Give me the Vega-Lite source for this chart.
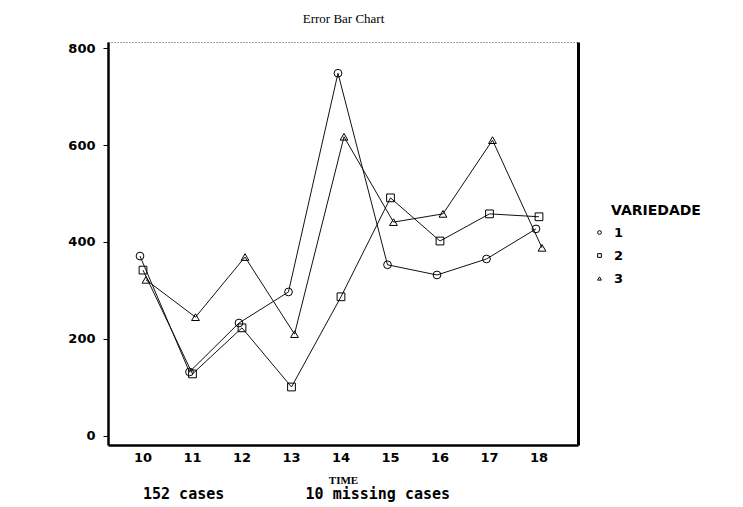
{
  "$schema": "https://vega.github.io/schema/vega-lite/v6.json",
  "width": 470,
  "height": 403,
  "autosize": {"type": "none"},
  "padding": {"left": 108, "top": 42, "right": 165, "bottom": 62},
  "background": "white",
  "title": {"text": "152 cases\u00a0\u00a0\u00a0\u00a0\u00a0\u00a0\u00a0\u00a0\u00a010 missing cases", "orient": "bottom", "anchor": "start", "frame": "group", "dx": 35, "offset": 2, "font": "DejaVu Sans Mono", "fontSize": 15, "fontWeight": "bold", "color": "black"},
  "config": {
    "view": {"stroke": "#444", "strokeWidth": 1, "strokeDash": [1, 2]},
    "axis": {"labelFont": "DejaVu Sans", "labelFontWeight": "bold", "labelFontSize": 13, "labelColor": "black", "titleColor": "black", "domainColor": "black", "tickColor": "black", "grid": false}
  },
  "data": {"values": [
    {"TIME": 10, "VARIEDADE": "1", "value": 371}, {"TIME": 10, "VARIEDADE": "2", "value": 342}, {"TIME": 10, "VARIEDADE": "3", "value": 322},
    {"TIME": 11, "VARIEDADE": "1", "value": 132}, {"TIME": 11, "VARIEDADE": "2", "value": 128}, {"TIME": 11, "VARIEDADE": "3", "value": 245},
    {"TIME": 12, "VARIEDADE": "1", "value": 233}, {"TIME": 12, "VARIEDADE": "2", "value": 223}, {"TIME": 12, "VARIEDADE": "3", "value": 369},
    {"TIME": 13, "VARIEDADE": "1", "value": 297}, {"TIME": 13, "VARIEDADE": "2", "value": 101}, {"TIME": 13, "VARIEDADE": "3", "value": 210},
    {"TIME": 14, "VARIEDADE": "1", "value": 748}, {"TIME": 14, "VARIEDADE": "2", "value": 287}, {"TIME": 14, "VARIEDADE": "3", "value": 617},
    {"TIME": 15, "VARIEDADE": "1", "value": 353}, {"TIME": 15, "VARIEDADE": "2", "value": 491}, {"TIME": 15, "VARIEDADE": "3", "value": 441},
    {"TIME": 16, "VARIEDADE": "1", "value": 332}, {"TIME": 16, "VARIEDADE": "2", "value": 402}, {"TIME": 16, "VARIEDADE": "3", "value": 458},
    {"TIME": 17, "VARIEDADE": "1", "value": 365}, {"TIME": 17, "VARIEDADE": "2", "value": 458}, {"TIME": 17, "VARIEDADE": "3", "value": 610},
    {"TIME": 18, "VARIEDADE": "1", "value": 427}, {"TIME": 18, "VARIEDADE": "2", "value": 452}, {"TIME": 18, "VARIEDADE": "3", "value": 388}
  ]},
  "encoding": {
    "xOffset": {"field": "VARIEDADE", "type": "nominal", "scale": {"type": "point", "range": [20.25, 29.25]}}
  },
  "layer": [
    {
      "mark": {"type": "line", "color": "#111", "strokeWidth": 1},
      "encoding": {
        "x": {"field": "TIME", "type": "ordinal", "scale": {"type": "band", "paddingInner": 0, "paddingOuter": 0.2475, "align": 0.418},
          "axis": {"labelAngle": 0, "ticks": false, "labelPadding": 6, "domainWidth": 2.5,
            "title": "TIME", "titleFont": "Liberation Serif", "titleFontWeight": "bold", "titleFontSize": 11, "titlePadding": 10}},
        "detail": {"field": "VARIEDADE", "type": "nominal"},
        "y": {"field": "value", "type": "quantitative", "scale": {"domain": [-18.6, 812.4], "nice": false, "zero": false},
          "axis": {"values": [0, 200, 400, 600, 800], "title": null, "tickSize": 5, "labelPadding": 8, "domainWidth": 2.5}}
      }
    },
    {
      "mark": {"type": "point", "filled": false, "color": "black", "size": 60, "strokeWidth": 1, "opacity": 1},
      "encoding": {
        "x": {"field": "TIME", "type": "ordinal", "scale": {"type": "band", "paddingInner": 0, "paddingOuter": 0.2475, "align": 0.418},
          "axis": {"orient": "top", "labels": false, "ticks": false, "domain": false, "title": "Error Bar Chart", "titleFont": "Liberation Serif", "titleFontSize": 13, "titleFontWeight": "normal", "titlePadding": 17}},
        "y": {"field": "value", "type": "quantitative", "scale": {"domain": [-18.6, 812.4], "nice": false, "zero": false},
          "axis": {"orient": "right", "labels": false, "ticks": false, "title": null, "domainWidth": 3}},
        "shape": {"field": "VARIEDADE", "type": "nominal", "scale": {"domain": ["1", "2", "3"], "range": ["circle", "square", "triangle-up"]},
          "legend": {"orient": "none", "legendX": 503, "legendY": 162, "title": "VARIEDADE", "titleFont": "DejaVu Sans", "titleFontWeight": "bold", "titleFontSize": 14, "titleColor": "black", "titlePadding": 8,
            "labelFont": "DejaVu Sans", "labelFontWeight": "bold", "labelFontSize": 13, "labelColor": "black", "symbolSize": 14, "symbolStrokeColor": "black", "symbolStrokeWidth": 1, "symbolOffset": -18, "labelOffset": 8, "rowPadding": 9}}
      }
    }
  ],
  "resolve": {"axis": {"x": "independent", "y": "independent"}}
}
